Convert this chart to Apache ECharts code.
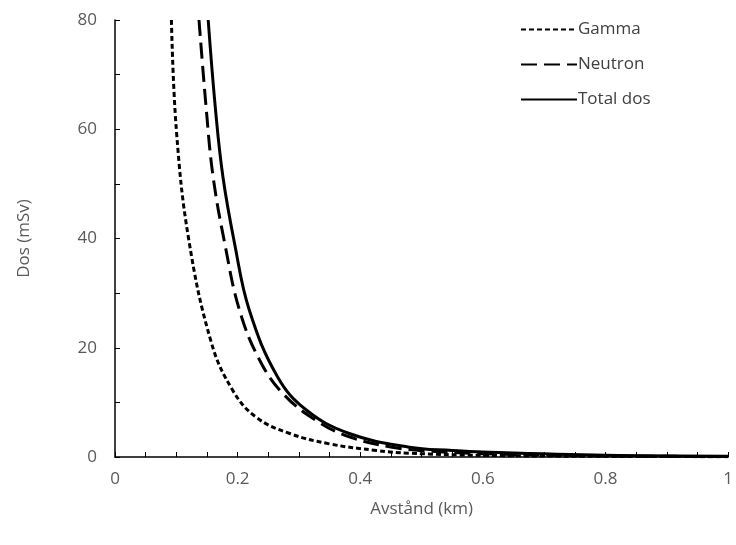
<!DOCTYPE html>
<html><head><meta charset="utf-8"><script src="https://cdn.jsdelivr.net/npm/echarts@6/dist/echarts.min.js"></script></head>
<body style="margin:0"><div id="c" style="width:736px;height:545px"></div>
<script>
const gamma = [[0.092,80],[0.1,60],[0.12,40],[0.157,21],[0.192,12.2],[0.23,7.3],[0.285,4.3],[0.35,2.4],[0.426,1.2],[0.48,0.7],[0.6,0.3],[0.8,0.12],[1,0.06]];
const neutron = [[0.137,80],[0.149,63.5],[0.16,51.3],[0.179,39.1],[0.203,26.9],[0.236,17.7],[0.274,11.6],[0.328,6.7],[0.382,3.7],[0.452,1.8],[0.5,1.2],[0.6,0.6],[0.8,0.2],[1,0.1]];
const total = [[0.152,80],[0.164,63.5],[0.176,51.3],[0.195,39.1],[0.219,26.9],[0.265,14.7],[0.312,8.6],[0.382,4.3],[0.48,1.8],[0.55,1.2],[0.6,0.9],[0.8,0.3],[1,0.15]];
const font = 'Open Sans';
const ch = echarts.init(document.getElementById('c'));
const mk = (name, data, type) => ({name, type:'line', data, smooth:0.4, showSymbol:false, symbol:'none',
  lineStyle:{color:'#000', width:3, type}, itemStyle:{color:'#000'}});
ch.setOption({
  animation:false,
  textStyle:{fontFamily:font},
  grid:{left:115, right:7, top:20, bottom:88},
  legend:{orient:'vertical', left:515, top:16, itemWidth:56, itemHeight:14, itemGap:18,
    itemStyle:{color:'transparent', opacity:0, borderWidth:0},
    textStyle:{fontFamily:font, fontSize:17, color:'#404040', padding:[0,0,0,-4]}, data:['Gamma','Neutron','Total dos']},
  xAxis:{type:'value', min:0, max:1, interval:0.2, name:'Avstånd (km)', nameLocation:'middle', nameGap:44,
    nameTextStyle:{fontSize:17, color:'#595959'},
    axisLine:{lineStyle:{color:'#000', width:1.5}}, axisTick:{show:true, inside:true, length:5, lineStyle:{color:'#000'}},
    minorTick:{show:true, splitNumber:4, length:5}, splitLine:{show:false},
    axisLabel:{fontSize:17, color:'#595959', margin:14, formatter:v=>v===1?'1':String(v)}},
  yAxis:{type:'value', min:0, max:80, interval:20, name:'Dos (mSv)', nameLocation:'middle', nameGap:82,
    nameTextStyle:{fontSize:17, color:'#595959'},
    axisLine:{show:true, lineStyle:{color:'#000', width:1.5}}, axisTick:{show:true, inside:true, length:5, lineStyle:{color:'#000'}},
    minorTick:{show:true, splitNumber:2, length:5}, splitLine:{show:false},
    axisLabel:{fontSize:17, color:'#595959', margin:18}},
  series:[mk('Gamma',gamma,[5,3]), mk('Neutron',neutron,[16,7]), mk('Total dos',total,'solid')]
});
</script></body></html>
